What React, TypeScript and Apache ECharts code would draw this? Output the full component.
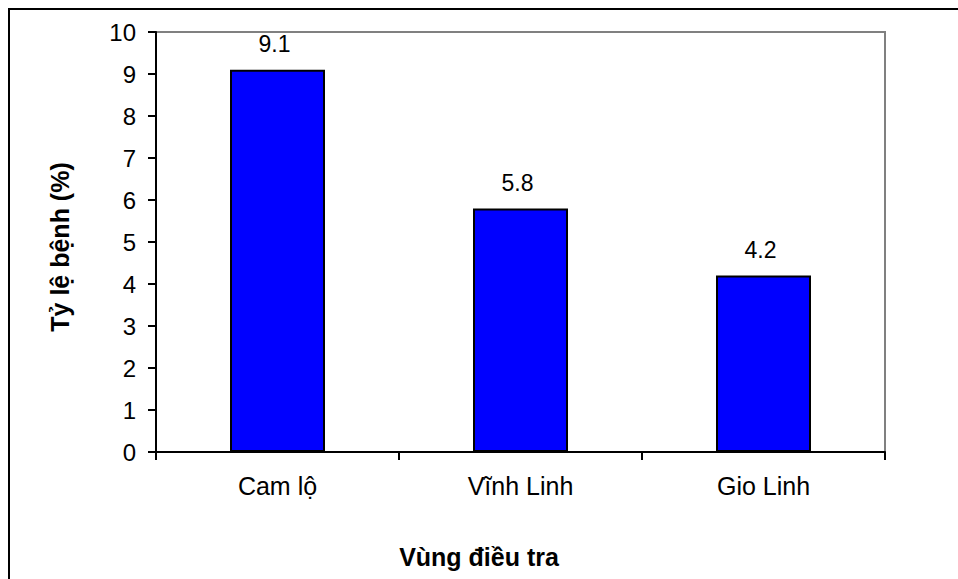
import React, { useEffect, useRef } from "react";
import * as echarts from "echarts";

// Disease rate by surveyed area
const regions: string[] = ["Cam lộ", "Vĩnh Linh", "Gio Linh"];
const diseaseRates: number[] = [9.1, 5.8, 4.2];
const yAxisTitle = "Tỷ lệ bệnh (%)";
const xAxisTitle = "Vùng điều tra";

const FONT = "Arial, 'Liberation Sans', sans-serif";

export default function App() {
  const ref = useRef<HTMLDivElement>(null);

  useEffect(() => {
    if (!ref.current) return;
    const chart = echarts.init(ref.current, null, { renderer: "svg" });
    chart.setOption({
      animation: false,
      backgroundColor: "#ffffff",
      textStyle: { fontFamily: FONT },
      grid: {
        left: 156,
        top: 32,
        right: 73,
        bottom: 127,
        show: true,
        borderColor: "#808080",
        borderWidth: 2,
        backgroundColor: "transparent",
      },
      xAxis: {
        type: "category",
        data: regions,
        boundaryGap: true,
        axisLine: { show: true, lineStyle: { color: "#000", width: 2 } },
        axisTick: { show: true, length: 8, inside: false, lineStyle: { color: "#000", width: 2 } },
        axisLabel: { color: "#000", fontSize: 25, fontFamily: FONT, margin: 21 },
        splitLine: { show: false },
      },
      yAxis: {
        type: "value",
        min: 0,
        max: 10,
        interval: 1,
        axisLine: { show: true, lineStyle: { color: "#000", width: 2 } },
        axisTick: { show: true, length: 8, inside: false, lineStyle: { color: "#000", width: 2 } },
        axisLabel: { color: "#000", fontSize: 24, fontFamily: FONT, margin: 20 },
        splitLine: { show: false },
      },
      series: [
        {
          type: "bar",
          data: diseaseRates,
          barWidth: 95,
          itemStyle: { color: "#0000ff", borderColor: "#000", borderWidth: 2 },
          label: {
            show: true,
            position: "top",
            distance: 14,
            color: "#000",
            fontSize: 23,
            fontFamily: FONT,
            offset: [-3, 0],
            formatter: (p: any) => String(p.value),
          },
        },
      ],
      graphic: [
        {
          type: "rect",
          shape: { x: 9, y: 9, width: 1000, height: 1000 },
          style: { fill: "none", stroke: "#000", lineWidth: 2 },
          silent: true,
        },
        {
          type: "text",
          x: 479,
          y: 557,
          style: {
            text: xAxisTitle,
            fill: "#000",
            font: `bold 25px ${FONT}`,
            align: "center",
            verticalAlign: "middle",
          },
        },
        {
          type: "text",
          x: 60,
          y: 247,
          rotation: Math.PI / 2,
          style: {
            text: yAxisTitle,
            fill: "#000",
            font: `bold 25px ${FONT}`,
            align: "center",
            verticalAlign: "middle",
          },
        },
      ],
    });
    return () => chart.dispose();
  }, []);

  return (
    <div
      ref={ref}
      style={{ position: "fixed", left: 0, top: 0, width: 958, height: 579 }}
    />
  );
}
